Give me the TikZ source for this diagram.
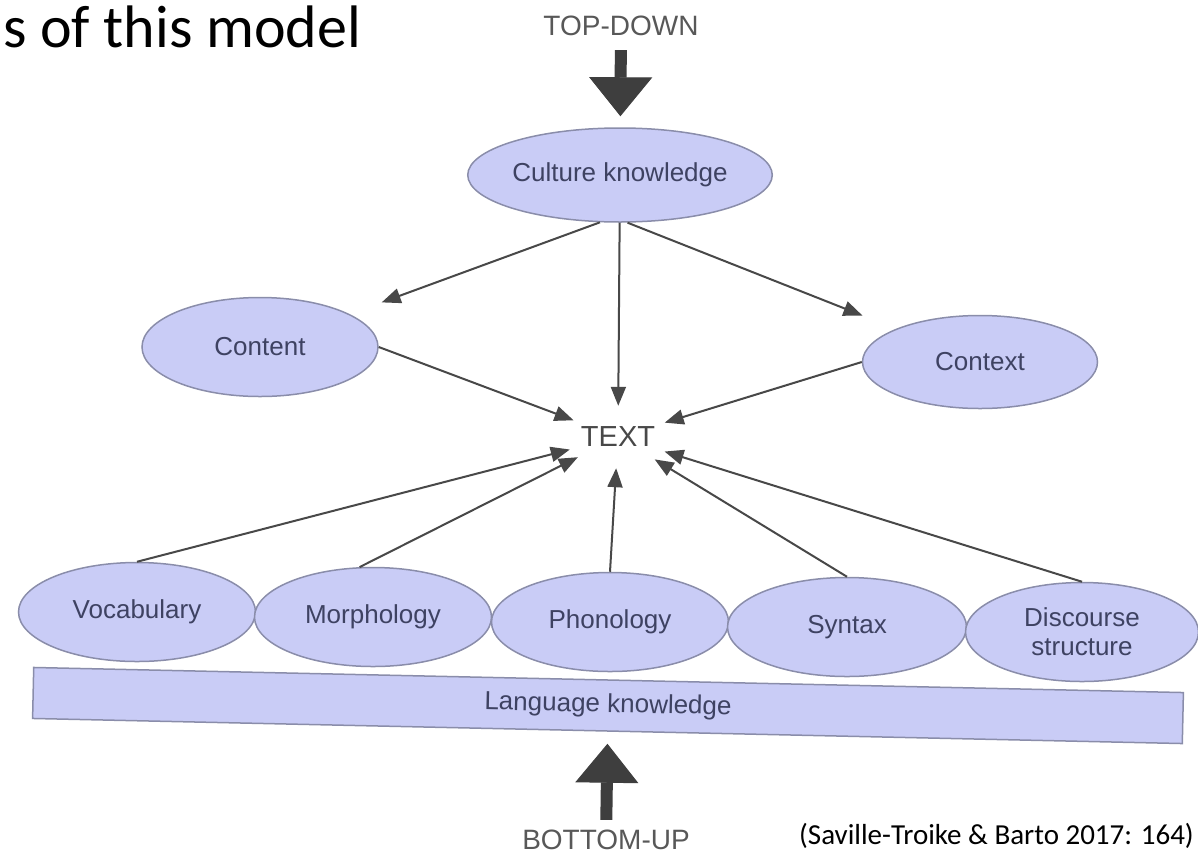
\documentclass[tikz,border=0pt]{standalone}
\usepackage{fontspec}
\setmainfont{Liberation Sans}
\newfontfamily\slidefont{Carlito}
\usepackage{tikz}
\usetikzlibrary{arrows.meta,shapes.geometric}
\definecolor{lav}{RGB}{201,204,246}
\definecolor{lavedge}{RGB}{138,141,170}
\definecolor{lavtext}{RGB}{62,66,98}
\definecolor{linkgray}{RGB}{72,72,72}
\definecolor{fatgray}{RGB}{62,62,62}
\definecolor{capgray}{RGB}{88,88,88}

\begin{document}
\begin{tikzpicture}[x=1pt,y=1pt,
  blob/.style={ellipse,draw=lavedge,line width=1.5pt,fill=lav,text=lavtext,inner sep=0pt,
    minimum width=237pt,minimum height=99pt,align=center,font=\fontsize{26}{29}\selectfont},
  link/.style={draw=linkgray,line width=2pt,-{Triangle[length=19pt,width=15pt]}},
  fat/.style={draw=fatgray,line width=12pt,-{Triangle[length=39pt,width=63pt,line width=1pt]}},
  caps/.style={text=capgray,inner sep=0pt,font=\fontsize{28}{30}\selectfont}]
\useasboundingbox (0,0) rectangle (1198,-857);

% slide title and source
\node[anchor=base west,inner sep=0pt,font=\slidefont\fontsize{60}{62}\selectfont] (title) at (3,-47) {s of this model};
\node[anchor=base east,inner sep=0pt,font=\slidefont\fontsize{29}{31}\selectfont] (source) at (1194,-844) {(Saville-Troike \& Barto 2017: 164)};

% top part
\node[caps] (topdown) at (621,-26) {TOP-DOWN};
\node[blob,minimum width=238pt,minimum height=94pt] (culture) at (620,-175) {Culture knowledge};
\node[blob,minimum width=236pt] (content) at (260,-347) {Content};
\node[blob,minimum width=235pt,minimum height=93pt] (context) at (980,-362) {Context};
\node[ellipse,minimum width=100pt,minimum height=62pt,inner sep=0pt,text=linkgray,
  font=\fontsize{29}{31}\selectfont] (text) at (618,-437) {TEXT};

% bottom row
\node[blob] (vocab) at (137,-612) {Vocabulary};
\node[blob] (morph) at (373,-617) {Morphology};
\node[blob] (phon) at (610,-622) {Phonology};
\node[blob,minimum width=239pt] (syntax) at (847,-627) {Syntax};
\node[blob,minimum width=233pt] (discourse) at (1082,-632) {Discourse\\structure};
\node[draw=lavedge,fill=lav,line width=1.5pt,text=lavtext,inner sep=0pt,rotate=-1.25,
  minimum width=1150pt,minimum height=51pt,font=\fontsize{26}{29}\selectfont] (lang) at (608,-705.5) {Language knowledge};
\node[caps] (bottomup) at (606,-840) {BOTTOM-UP};

% arrows
\draw[fat,shorten <=14pt,shorten >=11pt] (topdown) -- (culture);
\draw[fat,shorten <=10pt,shorten >=12pt] (bottomup) -- (lang);
\draw[link,shorten >=34pt] (culture.-113) -- (content);
\draw[link] (culture) -- (text);
\draw[link,shorten >=36pt] (culture.-81) -- (context);
\draw[link] (content.east) -- (text);
\draw[link] (context.west) -- (text);
\foreach \n in {vocab,phon,syntax,discourse}
  \draw[link] (\n.north) -- (text);
\draw[link] (morph.105) -- (text);
\end{tikzpicture}
\end{document}
